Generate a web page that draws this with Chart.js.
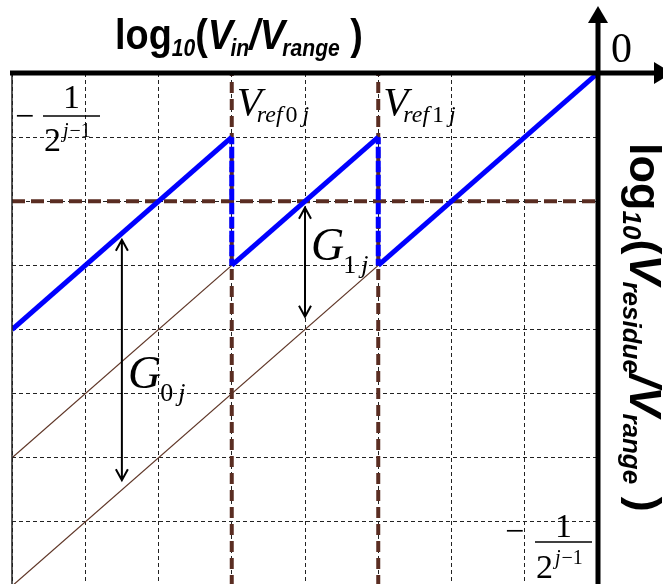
<!DOCTYPE html>
<html>
<head>
<meta charset="utf-8">
<script src="https://cdn.jsdelivr.net/npm/chart.js@4"></script>
<style>
  html, body { margin: 0; padding: 0; background: #fff; overflow: hidden; }
  #wrap { width: 663px; height: 584px; overflow: hidden; }
</style>
</head>
<body>
<div id="wrap"><canvas id="residue" width="663" height="590"></canvas></div>
<script>
// axis ranges, in grid units (one unit per dashed grid cell)
const X_MIN = -8, X_MAX = 0;
const Y_MIN = -8, Y_MAX = 0;

// residue transfer curve (blue), with the jumps at the reference levels
const residueX = [-8, -5, -5, -3, -3, 0];
const residueY = [-4, -1, -3, -1, -3, 0];

// input before gain (thin brown lines)
const lowerX = [-8, -3];
const lowerY = [-8, -3];
const upperX = [-8, -5];
const upperY = [-6, -3];

// comparator references and the threshold level
const refX = [-5, -3];
const refNames = ["0", "1"];
const thresholdY = -2;

// gain arrows G0j, G1j
const gainX = [-6.5, -4];
const gainTop = [-2.6, -2.1];
const gainBottom = [-6.35, -3.8];

const BLUE = "#0000ff";
const BROWN = "#5a2d22";
const THIN_BROWN = "#5e3526";
const SANS = '"Liberation Sans", Arial, sans-serif';
const SERIF = '"Liberation Serif", "Times New Roman", serif';

const pts = (xs, ys) => xs.map((x, i) => ({ x: x, y: ys[i] }));

const datasets = [
  {
    data: pts(residueX, residueY),
    borderColor: BLUE,
    borderWidth: 5,
    order: 0,
    segment: {
      borderDash: c => (c.p0.parsed.x === c.p1.parsed.x ? [7, 7] : undefined)
    }
  },
  { data: pts(lowerX, lowerY), borderColor: THIN_BROWN, borderWidth: 1.3, order: 1 },
  { data: pts(upperX, upperY), borderColor: THIN_BROWN, borderWidth: 1.3, order: 1 },
  {
    data: [{ x: X_MIN, y: thresholdY }, { x: X_MAX, y: thresholdY }],
    borderColor: BROWN, borderWidth: 4, borderDash: [13, 6], order: 2
  }
];
refX.forEach(rx => {
  datasets.push({
    data: [{ x: rx, y: Y_MIN }, { x: rx, y: Y_MAX }],
    borderColor: BROWN, borderWidth: 4, borderDash: [11, 6], order: 2
  });
});
datasets.forEach(d => { d.showLine = true; d.pointRadius = 0; d.fill = false; });

// draw a row of text pieces, each with its own font and vertical shift
function drawRuns(ctx, x, y, runs) {
  runs.forEach(r => {
    ctx.font = r.font;
    x += r.kern || 0;
    ctx.fillText(r.text, x, y + (r.dy || 0));
    x += ctx.measureText(r.text).width + (r.gap || 0);
  });
  return x;
}

function drawFraction(ctx, mx, my, barL, barR, barY, numBase, denX, denBase) {
  ctx.font = "34px " + SERIF;
  ctx.textAlign = "left";
  ctx.fillText("\u2212", mx, my);
  ctx.textAlign = "center";
  ctx.fillText("1", (barL + barR) / 2, numBase);
  ctx.textAlign = "left";
  ctx.lineWidth = 1.5;
  ctx.beginPath();
  ctx.moveTo(barL, barY);
  ctx.lineTo(barR, barY);
  ctx.stroke();
  const x = drawRuns(ctx, denX, denBase, [{ text: "2", font: "34px " + SERIF }]);
  drawRuns(ctx, x + 2, denBase - 14, [
    { text: "j", font: "italic 20px " + SERIF, gap: 1 },
    { text: "\u22121", font: "20px " + SERIF }
  ]);
}

function drawArrow(ctx, x, y1, y2) {
  ctx.lineWidth = 2;
  ctx.beginPath();
  ctx.moveTo(x, y1);
  ctx.lineTo(x, y2);
  ctx.moveTo(x - 6, y1 + 11); ctx.lineTo(x, y1); ctx.lineTo(x + 6, y1 + 11);
  ctx.moveTo(x - 6, y2 - 11); ctx.lineTo(x, y2); ctx.lineTo(x + 6, y2 - 11);
  ctx.stroke();
}

const overlay = {
  id: "overlay",
  afterDraw(chart) {
    const ctx = chart.ctx;
    const xs = chart.scales.x, ys = chart.scales.y;
    const area = chart.chartArea;
    const ox = xs.getPixelForValue(0), oy = ys.getPixelForValue(0);
    ctx.save();
    ctx.fillStyle = "#000";

    // left frame edge
    ctx.lineWidth = 1.5;
    ctx.strokeStyle = "#222";
    ctx.beginPath();
    ctx.moveTo(area.left, area.top);
    ctx.lineTo(area.left, area.bottom);
    ctx.stroke();
    ctx.strokeStyle = "#000";

    // axes with arrowheads
    ctx.lineWidth = 5;
    ctx.beginPath();
    ctx.moveTo(area.left - 2, oy);
    ctx.lineTo(656, oy);
    ctx.moveTo(ox, area.bottom + 5);
    ctx.lineTo(ox, 20);
    ctx.stroke();
    ctx.beginPath();
    ctx.moveTo(654, oy - 11); ctx.lineTo(672, oy); ctx.lineTo(654, oy + 11);
    ctx.closePath();
    ctx.fill();
    ctx.beginPath();
    ctx.moveTo(ox - 10, 23); ctx.lineTo(ox, 6); ctx.lineTo(ox + 10, 23);
    ctx.closePath();
    ctx.fill();

    // gain arrows
    gainX.forEach((gx, i) => {
      drawArrow(ctx, xs.getPixelForValue(gx), ys.getPixelForValue(gainTop[i]), ys.getPixelForValue(gainBottom[i]));
    });

    ctx.textAlign = "left";
    ctx.textBaseline = "alphabetic";

    // horizontal axis title
    const main = "bold 43px " + SANS, mainIt = "italic bold 43px " + SANS, sub = "italic bold 24px " + SANS;
    ctx.save();
    ctx.translate(115, 49);
    ctx.scale(0.88, 1);
    drawRuns(ctx, 0, 0, [
      { text: "log", font: main },
      { text: "10", font: sub, dy: 7 },
      { text: "(", font: main },
      { text: "V", font: mainIt },
      { text: "in", font: sub, dy: 7, kern: -3 },
      { text: "/", font: mainIt },
      { text: "V", font: mainIt },
      { text: "range", font: sub, dy: 7, kern: -3 },
      { text: " )", font: main }
    ]);
    ctx.restore();

    // vertical axis title, reading downwards
    const mainR = "bold 45px " + SANS, mainItR = "italic bold 45px " + SANS, subR = "italic bold 26px " + SANS;
    ctx.save();
    ctx.translate(630, 143);
    ctx.rotate(Math.PI / 2);
    ctx.scale(1.0, 1);
    drawRuns(ctx, 0, 0, [
      { text: "log", font: mainR },
      { text: "10", font: subR, dy: 7 },
      { text: "(", font: mainR },
      { text: "V", font: mainItR },
      { text: "residue", font: subR, dy: 7, kern: -3 },
      { text: "/", font: mainItR },
      { text: "V", font: mainItR },
      { text: "range", font: subR, dy: 7, kern: -3 },
      { text: " )", font: mainR }
    ]);
    ctx.restore();

    // origin
    ctx.font = "42px " + SERIF;
    ctx.fillText("0", 611, 62);

    // scale end marks -1/2^(j-1)
    drawFraction(ctx, 15, 127, 43, 100, 116, 108, 44, 151);
    drawFraction(ctx, 505, 542, 535, 592, 542, 537, 536, 578);

    // reference labels
    refX.forEach((rx, i) => {
      const px = xs.getPixelForValue(rx);
      const x = drawRuns(ctx, px + 5, 115, [{ text: "V", font: "italic 41px " + SERIF }]);
      drawRuns(ctx, x - 5, 122, [
        { text: "ref", font: "italic 24px " + SERIF, gap: 3 },
        { text: refNames[i], font: "24px " + SERIF, gap: 5 },
        { text: "j", font: "italic 24px " + SERIF }
      ]);
    });

    // gain labels
    const gainPos = [[128, 388], [311, 260]];
    gainPos.forEach((p, i) => {
      const x = drawRuns(ctx, p[0], p[1], [{ text: "G", font: "italic 46px " + SERIF }]);
      drawRuns(ctx, x - 1, p[1] + 13, [
        { text: String(i), font: "26px " + SERIF, gap: 5 },
        { text: "j", font: "italic 26px " + SERIF }
      ]);
    });

    ctx.restore();
  }
};

const axisOpts = (min, max) => ({
  type: "linear",
  min: min,
  max: max,
  ticks: { display: false, stepSize: 1 },
  grid: { color: "#222", lineWidth: 1, drawTicks: false },
  border: { display: false, dash: [4, 3] }
});

new Chart(document.getElementById("residue").getContext("2d"), {
  type: "scatter",
  data: { datasets: datasets },
  options: {
    responsive: false,
    animation: false,
    layout: { padding: { left: 12, top: 73, right: 65, bottom: 4 } },
    plugins: { legend: { display: false }, tooltip: { enabled: false } },
    scales: { x: axisOpts(X_MIN, X_MAX), y: axisOpts(Y_MIN, Y_MAX) }
  },
  plugins: [overlay]
});
</script>
</body>
</html>
